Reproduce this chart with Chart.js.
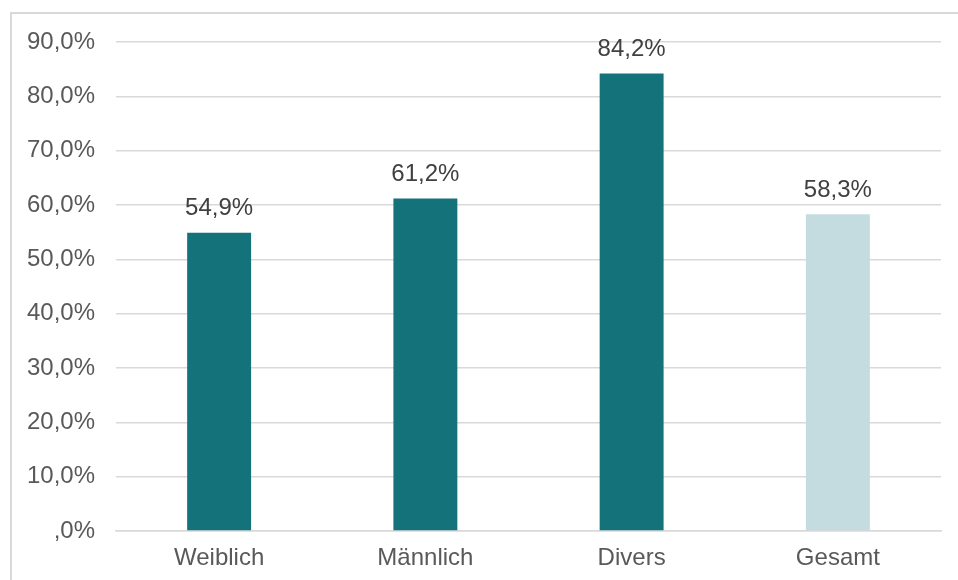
<!DOCTYPE html>
<html>
<head>
<meta charset="utf-8">
<script src="https://cdn.jsdelivr.net/npm/chart.js@4"></script>
<style>
  html, body { margin: 0; padding: 0; background: #fff; }
  #wrap { position: relative; width: 958px; height: 580px; overflow: hidden; }
  #frame { position: absolute; left: 10px; top: 12px; width: 980px; height: 600px; border: 2px solid #d9d9d9; box-sizing: border-box; }
  canvas { position: absolute; left: 0; top: 0; }
</style>
</head>
<body>
<div id="wrap">
  <div id="frame"></div>
  <canvas id="chart" width="958" height="580"></canvas>
</div>
<script>
const categories = ['Weiblich', 'Männlich', 'Divers', 'Gesamt'];
const shares = [54.9, 61.2, 84.2, 58.3];
const barColors = ['#14727a', '#14727a', '#14727a', '#c4dcdf'];
const yTicks = [0, 10, 20, 30, 40, 50, 60, 70, 80, 90];

const fmt = v => (v === 0 ? ',0' : v.toFixed(1).replace('.', ',')) + '%';

// value labels above the bars
const valueLabels = {
  id: 'valueLabels',
  afterDatasetsDraw(chart) {
    const { ctx } = chart;
    const meta = chart.getDatasetMeta(0);
    ctx.save();
    ctx.font = '24px "Liberation Sans", Arial, sans-serif';
    ctx.fillStyle = '#404040';
    ctx.textAlign = 'center';
    ctx.textBaseline = 'bottom';
    meta.data.forEach((bar, i) => {
      ctx.fillText(fmt(shares[i]), bar.x, bar.y - 12);
    });
    ctx.restore();
  }
};

new Chart(document.getElementById('chart').getContext('2d'), {
  type: 'bar',
  data: {
    labels: categories,
    datasets: [{
      data: shares,
      backgroundColor: barColors,
      borderWidth: 0,
      categoryPercentage: 1,
      barPercentage: 0.31
    }]
  },
  options: {
    responsive: false,
    animation: false,
    events: [],
    layout: { padding: { left: 0, right: 17, top: 42, bottom: 0 } },
    plugins: { legend: { display: false }, tooltip: { enabled: false } },
    scales: {
      x: {
        grid: { display: false, drawTicks: false },
        border: { display: true, color: '#d9d9d9', width: 1.5 },
        ticks: {
          padding: 13,
          color: '#595959',
          font: { family: '"Liberation Sans", Arial, sans-serif', size: 24 }
        },
        afterFit: scale => { scale.height = 49; }
      },
      y: {
        min: 0,
        max: 90,
        afterBuildTicks: scale => { scale.ticks = yTicks.map(v => ({ value: v })); },
        grid: { color: '#d9d9d9', lineWidth: 1.5, drawTicks: false },
        border: { display: false },
        ticks: {
          padding: 21,
          color: '#595959',
          font: { family: '"Liberation Sans", Arial, sans-serif', size: 24 },
          callback: v => fmt(v)
        },
        afterFit: scale => { scale.width = 116; }
      }
    }
  },
  plugins: [valueLabels]
});
</script>
</body>
</html>
